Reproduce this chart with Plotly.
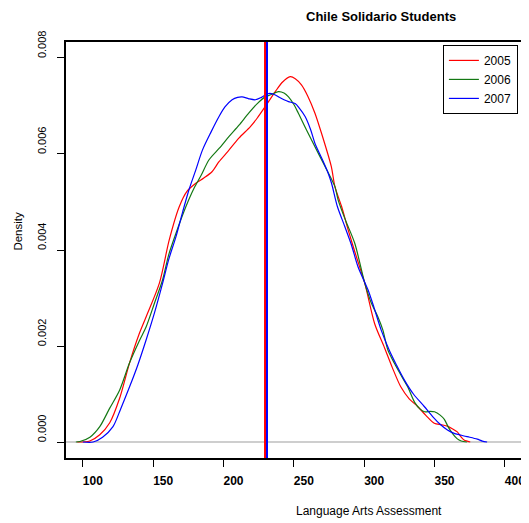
import plotly.graph_objects as go

# ---------------- data ----------------
years = ["2005", "2006", "2007"]
colors = ["#FF0000", "#137813", "#0000FF"]

x_2005 = [96, 104.9, 112, 119.1, 126, 133.2, 140, 145.0, 154.4, 161.4, 168.5, 174, 180.3, 186,
          191.8, 196.8, 203, 210.9, 219.1, 224, 229.7, 236.8, 242, 247.4, 251, 255.4, 260, 265.0,
          270, 276.6, 279.2, 284, 288.6, 294, 300.4, 307.4, 314.5, 320, 326.0, 332, 338.0, 344,
          349.8, 355, 359.2, 363, 366.2, 369, 371.0, 375.4]
d_2005 = [0.0, 0.00002, 0.00015, 0.0004, 0.0009, 0.00165, 0.00225, 0.00261, 0.00331, 0.00421,
          0.00490, 0.00522, 0.00539, 0.0055, 0.00563, 0.00584, 0.00605, 0.00633, 0.00657, 0.00675,
          0.00699, 0.00730, 0.00750, 0.00761, 0.00757, 0.00744, 0.00720, 0.00685, 0.00640, 0.00574,
          0.00532, 0.0049, 0.00442, 0.0039, 0.00331, 0.00247, 0.00196, 0.00155, 0.00115, 0.0009,
          0.00074, 0.00055, 0.00039, 0.00036, 0.00033, 0.00027, 0.00021, 0.0001, 0.00004, 0.0]

x_2006 = [95, 97.9, 105, 112, 119, 126.1, 133.2, 140, 145, 151, 156.7, 161, 166.2, 173.2, 179.1,
          184, 189.7, 197, 203.8, 211, 217.9, 224, 229.7, 234, 239.1, 243, 246.2, 250, 253.2, 259,
          265, 272, 279.2, 281.5, 287, 293.3, 300.4, 305, 309.7, 313.3, 316.8, 321.5, 326, 330.9,
          336, 340, 343, 347, 350, 354, 357, 360, 363, 366, 369, 373]
d_2006 = [0.0, 0.00001, 0.0001, 0.00032, 0.0007, 0.00108, 0.00165, 0.0021, 0.0024, 0.0029,
          0.00338, 0.0039, 0.00435, 0.0049, 0.00529, 0.00555, 0.00588, 0.00612, 0.00636, 0.0066,
          0.00685, 0.00705, 0.00719, 0.00724, 0.0073, 0.00727, 0.00719, 0.00703, 0.00685, 0.0065,
          0.00615, 0.00575, 0.00532, 0.00504, 0.0046, 0.00414, 0.00331, 0.0029, 0.00261, 0.00233,
          0.00192, 0.00164, 0.0014, 0.00115, 0.00082, 0.00068, 0.00063, 0.00064, 0.00063, 0.00056,
          0.00047, 0.0003, 0.00017, 0.00007, 0.00002, 0.0]

x_2007 = [100, 107.3, 114, 121.4, 127, 133.2, 139, 145, 151, 156.7, 161, 166.2, 171, 175.6, 180.3,
          185, 191, 196.8, 201, 206.1, 210, 213.2, 218, 222.7, 227, 232.1, 236, 239.1, 243, 246.2,
          250.9, 254, 258, 262, 265, 270, 274.4, 276.8, 281, 286.2, 291, 295.6, 302.7, 307, 312.1,
          318, 323, 328.6, 335, 342.7, 349, 354, 359.2, 364, 368, 371, 375, 380.4, 384, 387.4]
d_2007 = [0.0, 0.0, 0.0001, 0.00032, 0.0007, 0.00115, 0.0016, 0.00213, 0.0027, 0.00331, 0.0038,
          0.00428, 0.0048, 0.00527, 0.00567, 0.00608, 0.00645, 0.00678, 0.00698, 0.00713, 0.00718,
          0.00719, 0.00715, 0.00713, 0.00718, 0.00726, 0.00724, 0.00719, 0.00713, 0.00709, 0.00705,
          0.00695, 0.00678, 0.0065, 0.00622, 0.0059, 0.0056, 0.00539, 0.0049, 0.00449, 0.0041,
          0.00365, 0.00317, 0.0028, 0.00233, 0.0019, 0.0016, 0.00129, 0.001, 0.00074, 0.00052,
          0.00037, 0.00025, 0.00018, 0.00015, 0.000125, 0.0001, 0.00006, 0.00002, 0.0]

# mean score per year (vertical reference lines)
means = [229.5, 230.2, 230.9]

x_ticks = [100, 150, 200, 250, 300, 350, 400]
y_ticks = [0.000, 0.002, 0.004, 0.006, 0.008]
y_tick_labels = ["0.000", "0.002", "0.004", "0.006", "0.008"]

title = "Chile Solidario Students"
x_title = "Language Arts Assessment"
y_title = "Density"

# ---------------- figure ----------------
FONT = "Liberation Sans, Arial, sans-serif"
fig = go.Figure()

series = [(x_2005, d_2005), (x_2006, d_2006), (x_2007, d_2007)]
for (xs, ds), yr, col in zip(series, years, colors):
    fig.add_trace(go.Scatter(x=xs, y=ds, mode="lines", name=yr,
                             line=dict(color=col, width=1.2, shape="spline", smoothing=0.8)))

# zero line
fig.add_hline(y=0, line_color="#BEBEBE", line_width=1.5, layer="below")

# mean lines: draw 2006 first so 2005/2007 sit on top
for i in [1, 0, 2]:
    fig.add_vline(x=means[i], line_color=colors[i], line_width=2)

# page body has an 8px margin, so the figure is 8px smaller and offset
fig.update_layout(
    width=521, height=515,
    margin=dict(l=58, r=4, t=34, b=65),
    paper_bgcolor="white", plot_bgcolor="white",
    font=dict(family=FONT, size=12, color="black"),
    showlegend=True,
    legend=dict(x=0.991, y=0.993, xanchor="right", yanchor="top",
                bordercolor="black", borderwidth=1, bgcolor="white",
                font=dict(size=12), tracegroupgap=0, itemwidth=30),
    xaxis=dict(range=[88, 412.2], tickvals=x_ticks, ticks="outside", ticklen=7,
               tickcolor="black", showline=True, linecolor="black", linewidth=1.5,
               mirror=True, showgrid=False, zeroline=False,
               tickfont=dict(size=12, family=FONT, weight="bold"),
               ticklabelstandoff=4, ticklabelshift=10),
    yaxis=dict(range=[-0.000333, 0.008333], tickvals=y_ticks, ticktext=y_tick_labels,
               ticks="outside", ticklen=7, tickcolor="black", showline=True,
               linecolor="black", linewidth=1.5, mirror=True, showgrid=False,
               zeroline=False, tickangle=-90, tickfont=dict(size=11, family=FONT),
               ticklabelstandoff=7, ticklabelshift=-12),
    annotations=[
        dict(text="<b>" + title + "</b>", x=0.69, y=1.0625, xref="paper", yref="paper",
             showarrow=False, font=dict(size=13, family=FONT), xanchor="center",
             yanchor="middle"),
        dict(text=x_title, x=0.6645, y=-0.1274, xref="paper", yref="paper",
             showarrow=False, font=dict(size=12, family=FONT), xanchor="center",
             yanchor="middle"),
        dict(text=y_title, x=-0.1046, y=0.545, xref="paper", yref="paper",
             showarrow=False, font=dict(size=11.5, family=FONT), textangle=-90,
             xanchor="center", yanchor="middle"),
    ],
)

fig.write_html("out.html")
